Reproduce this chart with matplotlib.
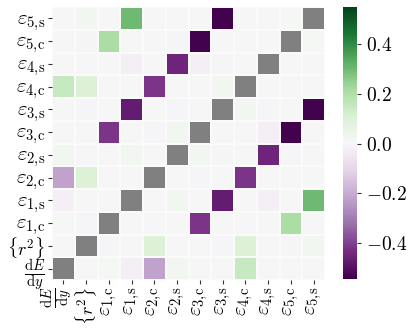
import numpy as np
import matplotlib
matplotlib.use("Agg")
import matplotlib.pyplot as plt

plt.rcParams['mathtext.fontset'] = 'cm'
plt.rcParams['font.family'] = 'serif'
plt.rcParams['font.serif'] = ['cmr10', 'DejaVu Serif']

# Etiquetas de los parametros
labels = [r'$\frac{\mathrm{d}E}{\mathrm{d}y}$', r'$\{r^2\}$',
          r'$\varepsilon_{1{,}\mathrm{c}}$', r'$\varepsilon_{1{,}\mathrm{s}}$',
          r'$\varepsilon_{2{,}\mathrm{c}}$', r'$\varepsilon_{2{,}\mathrm{s}}$',
          r'$\varepsilon_{3{,}\mathrm{c}}$', r'$\varepsilon_{3{,}\mathrm{s}}$',
          r'$\varepsilon_{4{,}\mathrm{c}}$', r'$\varepsilon_{4{,}\mathrm{s}}$',
          r'$\varepsilon_{5{,}\mathrm{c}}$', r'$\varepsilon_{5{,}\mathrm{s}}$']

nan = np.nan
# Matriz de correlacion (diagonal en gris)
corr = np.array([
    [nan, 0.00, 0.01, -0.02, -0.22, 0.02, 0.00, 0.00, 0.15, 0.00, 0.00, 0.00],
    [0.00, nan, -0.01, 0.00, 0.10, 0.00, 0.00, -0.01, 0.10, 0.00, -0.005, 0.02],
    [0.01, -0.01, nan, 0.00, 0.00, 0.00, -0.42, 0.00, 0.00, 0.00, 0.21, 0.00],
    [-0.02, 0.00, 0.00, nan, 0.00, 0.02, 0.00, -0.47, 0.00, -0.02, 0.00, 0.30],
    [-0.22, 0.10, 0.00, 0.00, nan, 0.00, -0.01, 0.00, -0.42, 0.00, 0.00, 0.00],
    [0.02, 0.00, 0.00, 0.02, 0.00, nan, 0.02, -0.01, 0.00, -0.45, -0.01, 0.00],
    [0.00, 0.00, -0.42, 0.00, -0.01, 0.02, nan, 0.00, 0.00, -0.02, -0.54, 0.00],
    [0.00, -0.01, 0.00, -0.47, 0.00, -0.01, 0.00, nan, 0.02, -0.01, 0.00, -0.54],
    [0.15, 0.10, 0.00, 0.00, -0.42, 0.00, 0.00, 0.02, nan, 0.00, 0.00, 0.00],
    [0.00, 0.00, 0.00, -0.02, 0.00, -0.45, -0.02, -0.01, 0.00, nan, 0.00, 0.00],
    [0.00, -0.005, 0.21, 0.00, 0.00, -0.01, -0.54, 0.00, 0.00, 0.00, nan, 0.01],
    [0.00, 0.02, 0.00, 0.30, 0.00, 0.00, 0.00, -0.54, 0.00, 0.00, 0.01, nan],
])

cbar_ticks = [-0.4, -0.2, 0.0, 0.2, 0.4]
vmin, vmax = -0.545, 0.55

cmap = plt.get_cmap('PRGn').copy()
cmap.set_bad('#808080')

fig = plt.figure(figsize=(4.12, 3.32), dpi=100)
ax = fig.add_axes([52/412, 52/332, 273/412, 273/332])
cax = fig.add_axes([343/412, 53/332, 14/412, 272/332])

n = len(labels)
mesh = ax.pcolormesh(np.arange(n + 1), np.arange(n + 1), np.ma.masked_invalid(corr),
                     cmap=cmap, vmin=vmin, vmax=vmax,
                     edgecolor='#fafafa', linewidth=0.25)
ax.set_xlim(0, n)
ax.set_ylim(0, n)
ax.set_xticks(np.arange(n) + 0.5)
ax.set_yticks(np.arange(n) + 0.5)
# la fraccion del eje x va aparte, un poco a la izquierda de su marca
ax.set_xticklabels([''] + labels[1:], rotation=90, fontsize=15)
ax.annotate(labels[0], xy=(0.5, 0), xycoords=('data', 'axes fraction'),
            xytext=(-4, -5), textcoords='offset points',
            rotation=90, ha='center', va='top', fontsize=15)
ax.set_yticklabels(labels, fontsize=15)
# {r^2} un poco mas pequeño para que no choque con dE/dy
ax.get_xticklabels()[1].set_fontsize(13)
ax.get_yticklabels()[1].set_fontsize(13)
ax.tick_params(length=3, width=0.8, color='#333333', pad=2)
for s in ax.spines.values():
    s.set_visible(False)

cb = fig.colorbar(mesh, cax=cax)
cb.outline.set_visible(False)
cb.set_ticks(cbar_ticks)
cb.set_ticklabels([r'$-0.4$', r'$-0.2$', r'$0.0$', r'$0.2$', r'$0.4$'])
cax.tick_params(labelsize=14, length=3, width=0.8, color='#333333')

fig.savefig('out.png', dpi=100)
